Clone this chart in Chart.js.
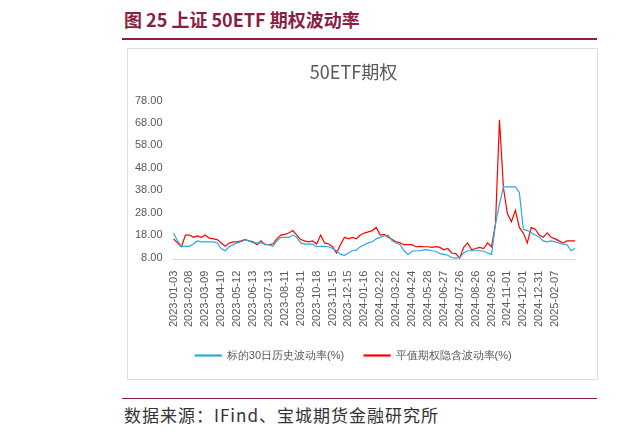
<!DOCTYPE html>
<html lang="zh">
<head>
<meta charset="UTF-8" />
<script src="https://cdn.jsdelivr.net/npm/chart.js"></script>
<style>
  body { margin: 0; width: 617px; height: 437px; background: #fff; position: relative; overflow: hidden;
    font-family: 'Noto Sans CJK SC', sans-serif; }
  .head { position: absolute; left: 124px; top: 6px; color: #8a1f45; font-weight: bold; font-size: 18px; }
  .rule { position: absolute; left: 122px; width: 475px; height: 1.5px; background: #8a1f45; }
  .box { position: absolute; left: 127px; top: 48px; width: 469px; height: 330px; border: 1px solid #ddd; }
  .foot { position: absolute; left: 124px; top: 402px; font-size: 17px; color: #333; letter-spacing: 1px; }
</style>
</head>
<body>
  <div class="head">图 25 上证 50ETF 期权波动率</div>
  <div class="rule" style="top:38px"></div>
  <div class="box"><canvas id="c" width="469" height="330"></canvas></div>
  <div class="rule" style="top:398px;height:1px"></div>
  <div class="foot">数据来源：IFind、宝城期货金融研究所</div>
<script>
const tickDates = ['2023-01-03','2023-02-08','2023-03-09','2023-04-10','2023-05-12','2023-06-13','2023-07-13',
  '2023-08-11','2023-09-11','2023-10-18','2023-11-15','2023-12-15','2024-01-16','2024-02-22','2024-03-22',
  '2024-04-24','2024-05-28','2024-06-27','2024-07-26','2024-08-26','2024-09-26','2024-11-01','2024-12-01',
  '2024-12-31','2025-02-07'];
const hv30 = [18.9,15.4,13,13, 13,14,15.4,15, 15,15,15,14.5, 12,11,12.8,13.7, 14.5,15,15.8,15.4, 14.5,14.5,14.5,14,
  13.7,13,15.4,17, 17,17,18,17, 14.5,14,14,14, 12.8,13,13,12.8, 12,11,9.4,9, 10,11,11.4,12.8,
  13.7,14.5,15,16.3, 17,17.6,18,15.4, 14.5,13.7,11,9.4, 10.8,11,11,11.4, 11.4,11,10.8,9.7,
  9.4,9,8,7.7, 8,10,11,11, 11,11,10.8,10, 9.4,23,31.8,39.5, 39.5,39.5,39.5,37, 20.6,20,19,18,
  17,15.4,15,15.4, 15,14.5,14,13.7, 11,12];
const iv = [16.3,14.5,12.8,18, 18,17,17.6,17, 18,16.6,16.3,16, 14.5,13,14.5,15, 15,15.4,16,15.4, 15,13.7,15.4,13.7,
  13.7,14,16.3,18, 18.3,18.9,20,18, 16,15.4,15,15.4, 14,18,14.5,14, 12.8,10,13.7,17, 16.3,17,16.3,18,
  18.9,19.4,20,21.4, 18,18.3,17,16, 15,14.5,13.7,13.7, 13.7,12.8,13,12.8, 12.8,12.5,12.8,12.5,
  11.4,12,10,9.7, 7.7,12.5,14.5,11.4, 12,12.5,12,14.5, 12.8,23,69.4,39, 27.5,24,29,21.4, 18.9,14.5,21.4,20.6,
  18,17,19,17, 16.3,15.4,14.5,15.4, 15.4,15.4];
const labels = hv30.map((v, i) => i % 4 === 0 ? (tickDates[i / 4] || '') : '');

new Chart(document.getElementById('c'), {
  type: 'line',
  data: { labels, datasets: [
    { label: '标的30日历史波动率(%)', data: hv30, borderColor: '#29a9e0', borderWidth: 1.2, pointRadius: 0 },
    { label: '平值期权隐含波动率(%)', data: iv, borderColor: '#ff0000', borderWidth: 1.2, pointRadius: 0 }
  ]},
  options: {
    responsive: false, animation: false,
    layout: { padding: { left: 4, right: 22, bottom: 8 } },
    plugins: {
      title: { display: true, text: '50ETF期权', color: '#595959', font: { size: 18, family: 'Noto Sans CJK SC', weight: 'normal' }, padding: { top: 12, bottom: 18 } },
      legend: { position: 'bottom', labels: { boxWidth: 26, boxHeight: 1, color: '#595959', font: { size: 11 }, padding: 20 } }
    },
    scales: {
      x: { grid: { display: false }, border: { color: '#d9d9d9' },
        ticks: { autoSkip: false, maxRotation: 90, minRotation: 90, color: '#595959', font: { size: 11 },
          callback: (v, i) => labels[i] } },
      y: { min: 7, max: 78, grid: { display: false }, border: { display: false },
        afterBuildTicks: ax => { ax.ticks = [8,18,28,38,48,58,68,78].map(v => ({ value: v })); },
        ticks: { color: '#595959', font: { size: 11 }, callback: v => v.toFixed(2) } }
    }
  }
});
</script>
</body>
</html>
